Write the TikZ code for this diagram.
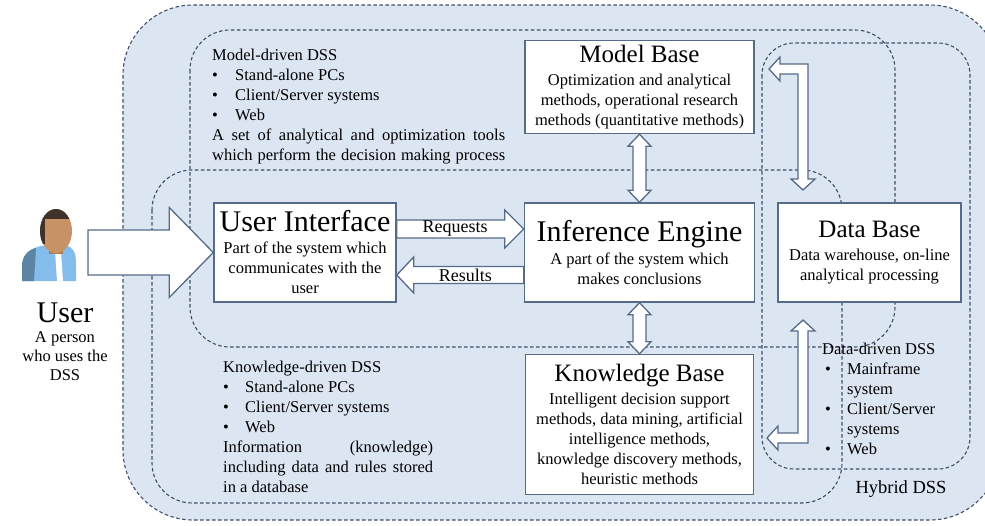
\documentclass[tikz,border=0pt]{standalone}
\usepackage{fontspec}
\setmainfont{Liberation Serif}
\usepackage{xcolor}
\usepackage{tikz}
\usetikzlibrary{calc,positioning}

\definecolor{dssfill}{RGB}{220,230,242}
\definecolor{dssline}{RGB}{62,78,104}
\definecolor{boxline}{RGB}{86,106,138}
\definecolor{skin}{RGB}{198,146,102}
\definecolor{hair}{RGB}{62,50,42}
\definecolor{shirt}{RGB}{132,188,236}

\newcommand{\fontbig}{\fontsize{30}{32}\selectfont}
\newcommand{\fontmid}{\fontsize{25}{27}\selectfont}
\newcommand{\fontbody}{\fontsize{16.5}{20}\selectfont}
\newcommand{\fontlbl}{\fontsize{18}{20}\selectfont}

\tikzset{
  region/.style={draw=dssline, dash pattern=on 3.5pt off 2.5pt, line width=1.1pt, rounded corners=40pt},
  box/.style={draw=boxline, fill=white, line width=1.5pt, align=center, inner sep=2pt, font=\fontbody},
  blk/.style={draw=boxline, fill=white, line width=1.3pt, line join=miter},
  plain/.style={align=left, inner sep=0pt, font=\fontbody},
}

% tail, tip, half shaft, half head, head length
\newcommand{\onearrow}[5]{%
  \coordinate (hb) at ($(#2)!#5!(#1)$);
  \filldraw[blk] ($(#1)!#3!90:(#2)$) -- ($(hb)!#3!90:(#2)$) -- ($(hb)!#4!90:(#2)$) -- (#2)
    -- ($(hb)!#4!-90:(#2)$) -- ($(hb)!#3!-90:(#2)$) -- ($(#1)!#3!-90:(#2)$) -- cycle;}
% tip, tip, half shaft, half head, head length
\newcommand{\twoarrow}[5]{%
  \coordinate (ha) at ($(#1)!#5!(#2)$);
  \coordinate (hb) at ($(#2)!#5!(#1)$);
  \filldraw[blk] (#1) -- ($(ha)!#4!90:(#2)$) -- ($(ha)!#3!90:(#2)$) -- ($(hb)!#3!-90:(#1)$)
    -- ($(hb)!#4!-90:(#1)$) -- (#2) -- ($(hb)!#4!90:(#1)$) -- ($(hb)!#3!90:(#1)$)
    -- ($(ha)!#3!-90:(#2)$) -- ($(ha)!#4!-90:(#2)$) -- cycle;}

\begin{document}
\begin{tikzpicture}[x=1pt, y=-1pt]
\useasboundingbox (0,0) rectangle (985,525);
% DSS regions
\filldraw[region, fill=dssfill, rounded corners=70pt] (123,5) rectangle (1000,520);
\draw[region] (190,30) rectangle (895,347);
\draw[region] (152,170) rectangle (842,503);
\draw[region, rounded corners=32pt] (762,43) rectangle (970,469);

\node[plain, anchor=north west] (modeltxt) at (212,49) {Model-driven DSS\\
  \makebox[23pt][l]{\textbullet}Stand-alone PCs\\
  \makebox[23pt][l]{\textbullet}Client/Server systems\\
  \makebox[23pt][l]{\textbullet}Web\\
  \makebox[293pt][s]{A set of analytical and optimization tools}\\
  \makebox[293pt][s]{which perform the decision making process}};
\node[plain, anchor=north west] (knowtxt) at (223,361) {Knowledge-driven DSS\\
  \makebox[22pt][l]{\textbullet}Stand-alone PCs\\
  \makebox[22pt][l]{\textbullet}Client/Server systems\\
  \makebox[22pt][l]{\textbullet}Web\\
  \makebox[210pt][s]{Information (knowledge)}\\
  \makebox[210pt][s]{including data and rules stored}\\
  in a database};
\node[plain, anchor=north west] (datatxt) at (822,343) {Data-driven DSS\\
  \makebox[25pt][l]{\hspace{3pt}\textbullet}Mainframe\\
  \hspace*{25pt}system\\
  \makebox[25pt][l]{\hspace{3pt}\textbullet}Client/Server\\
  \hspace*{25pt}systems\\
  \makebox[25pt][l]{\hspace{3pt}\textbullet}Web};
\node[font=\fontsize{18.5}{20}\selectfont] (hybridtxt) at (901,489) {Hybrid DSS};

% user
\fill[shirt] (22,281) -- (22,266) .. controls (22,252) and (34,246) .. (48,245)
  -- (64,245) .. controls (76,247) and (76,256) .. (76,266) -- (76,281) -- cycle;
\fill[shirt!70!black] (22,281) -- (22,266) .. controls (22,256) and (28,250) .. (36,248) -- (34,281) -- cycle;
\fill[white] (55,251) -- (61,251) -- (63,281) -- (57,281) -- cycle;
\fill[skin!85!black] (49,240) rectangle (63,254);
\fill[skin] (56,231) ellipse (16 and 22);
\begin{scope}
  \clip (56,231) ellipse (16 and 22);
  \fill[hair] (38,205) rectangle (75,219);
  \fill[hair] (38,205) rectangle (45,244);
\end{scope}
\node[font=\fontbig] (user) at (65,313) {User};
\node[below=2pt of user, align=center, font=\fontsize{16.5}{19}\selectfont] (userdesc) {A person\\who uses the\\DSS};

% boxes
\node[box, minimum width=182pt, minimum height=99pt] (ui) at (305,252.5)
  {{\fontbig User Interface}\\[2pt] Part of the system which\\ communicates with the\\ user};
\node[box, minimum width=230pt, minimum height=99pt, right=127pt of ui] (ie)
  {{\fontbig Inference Engine}\\[3pt] A part of the system which\\ makes conclusions};
\node[box, minimum width=229pt, minimum height=93pt, above=68pt of ie] (mb)
  {{\fontmid Model Base}\\[3pt] Optimization and analytical\\ methods, operational research\\ methods (quantitative methods)};
\node[box, minimum width=228pt, minimum height=140pt, below=51pt of ie] (kb)
  {{\fontmid Knowledge Base}\\[3pt] Intelligent decision support\\ methods, data mining, artificial\\ intelligence methods,\\ knowledge discovery methods,\\ heuristic methods};
\node[box, minimum width=183pt, minimum height=99pt, right=22pt of ie] (db)
  {{\fontmid Data Base}\\[3pt] Data warehouse, on-line\\ analytical processing};

% arrows
\coordinate (usr) at (88,252.5);
\onearrow{usr}{ui.west}{22.5pt}{45pt}{44pt}
\coordinate (rq1) at ([yshift=23.5pt]ui.east);
\coordinate (rq2) at ([yshift=23.5pt]ie.west);
\onearrow{rq1}{rq2}{9pt}{19pt}{19pt}
\coordinate (rs1) at ([yshift=-22.5pt]ie.west);
\coordinate (rs2) at ([yshift=-22.5pt]ui.east);
\onearrow{rs1}{rs2}{8.5pt}{18pt}{17pt}
\node[font=\fontlbl, inner sep=0pt] (req) at ($(rq1)!0.46!(rq2)$) {Requests};
\node[font=\fontlbl, inner sep=0pt] (res) at ($(rs1)!0.46!(rs2)$) {Results};
\twoarrow{mb.south}{ie.north}{6.5pt}{11.5pt}{12pt}
\twoarrow{ie.south}{kb.north}{6.5pt}{11.5pt}{12pt}
\filldraw[blk] (769,69) -- (780,57) -- (780,64) -- (808,64) -- (808,179) -- (815,179) -- (803,190)
  -- (791,179) -- (798,179) -- (798,74) -- (780,74) -- (780,81) -- cycle;
\filldraw[blk] (803,320) -- (815,331) -- (808,331) -- (808,443) -- (778,443) -- (778,450) -- (767,438)
  -- (778,426) -- (778,433) -- (798,433) -- (798,331) -- (791,331) -- cycle;
\end{tikzpicture}
\end{document}
